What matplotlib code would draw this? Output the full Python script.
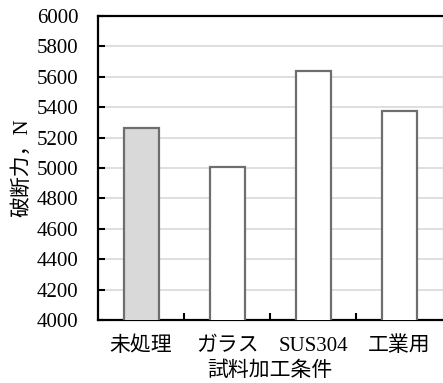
import matplotlib
matplotlib.use("Agg")
import matplotlib.pyplot as plt
import numpy as np

# Breaking force by sample treatment condition
categories = ["未処理", "ガラス", "SUS304", "工業用"]
forces = [5265, 5005, 5640, 5375]
fill_colors = ["#d9d9d9", "#ffffff", "#ffffff", "#ffffff"]
y_ticks = list(range(4000, 6001, 200))

fonts = ["Liberation Serif", "Noto Sans CJK JP", "DejaVu Sans"]
plt.rcParams["font.family"] = fonts

fig = plt.figure(figsize=(4.43, 3.83), dpi=100)
ax = fig.add_axes([98 / 443, 63 / 383, 344.5 / 443, 304 / 383])

x = np.arange(len(categories))
ax.bar(x, forces, width=0.405, color=fill_colors, edgecolor="#6e6e6e",
       linewidth=1.6, zorder=3)

ax.set_ylim(4000, 6000)
ax.set_xlim(-0.5, len(categories) - 0.5)
ax.set_yticks(y_ticks)
ax.set_yticklabels([str(v) for v in y_ticks], fontsize=15)
ax.yaxis.grid(True, color="#d9d9d9", linewidth=1.2, zorder=0)

ax.set_xticks(x)
ax.set_xticklabels(categories, fontsize=15)
ax.set_xticks(x[:-1] + 0.5, minor=True)
ax.tick_params(axis="x", which="major", length=0, pad=12)
ax.tick_params(axis="x", which="minor", direction="in", length=5, width=1.5)
ax.tick_params(axis="y", direction="in", length=5, width=1.5, pad=14)

for side in ("left", "bottom", "top"):
    ax.spines[side].set_linewidth(1.6)
    ax.spines[side].set_color("black")
ax.spines["right"].set_color("#d0d0d0")
ax.spines["right"].set_linewidth(1.0)

ax.set_ylabel("破断力，N", fontsize=15, labelpad=3)
ax.set_xlabel("試料加工条件", fontsize=15, labelpad=4)

fig.savefig("out.png", dpi=100)
